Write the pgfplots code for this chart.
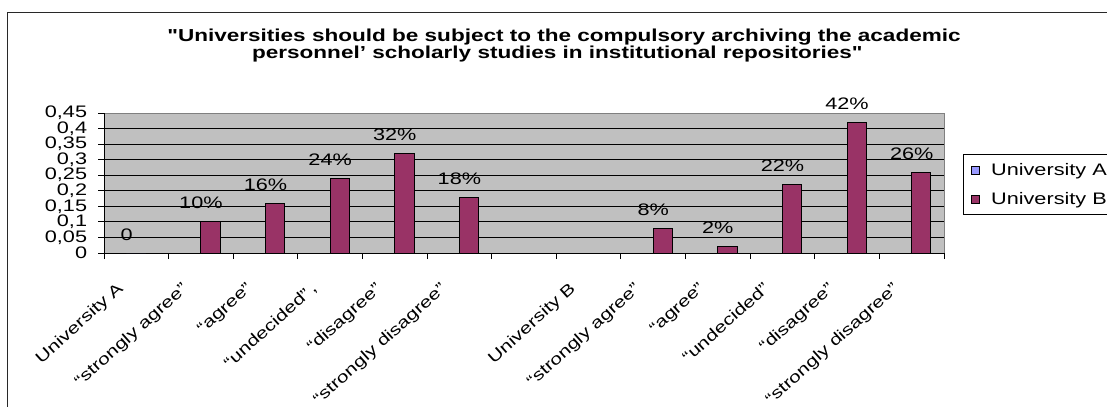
\documentclass[border=0pt]{standalone}
\usepackage{pgfplots}
\pgfplotsset{compat=1.18}
\usepackage{fontspec}
\setmainfont{Liberation Sans}[FakeStretch=1.3, Ligatures=TeXOff]
\definecolor{barB}{RGB}{153,51,102}
\definecolor{barA}{RGB}{153,153,255}
\definecolor{plotbg}{RGB}{192,192,192}
\definecolor{frameg}{RGB}{128,128,128}
\newcommand\lbl{\fontsize{12.5}{13}\selectfont}
\newcommand\xlbl{\fontsize{12}{13}\selectfont}
\newcommand\lgd{\fontsize{12.5}{13}\selectfont}
\newcommand\ttl{\fontsize{13}{15}\selectfont\bfseries}
\begin{document}
\begin{tikzpicture}
\useasboundingbox (0,0) rectangle (830.25pt,-305.25pt);
\clip (0,0) rectangle (830.25pt,-305.25pt);
\draw[line width=0.75pt, color={rgb,255:red,40;green,40;blue,40}] (5.25pt,-9pt) rectangle (850pt,-330pt);
\node[font=\ttl, anchor=base, inner sep=0pt] at (423pt,-30.75pt) {"Universities should be subject to the compulsory archiving the academic};
\node[font=\ttl, anchor=base, inner sep=0pt] at (418pt,-43.5pt) {personnel’ scholarly studies in institutional repositories"};
\begin{axis}[
  at={(78pt,-189.75pt)}, anchor=south west,
  scale only axis, width=630pt, height=105pt,
  xmin=-0.5, xmax=12.5, ymin=0, ymax=0.45,
  axis x line*=bottom, axis y line*=left,
  axis line style={-, black, line width=0.75pt},
  axis background/.style={fill=plotbg, draw=frameg, line width=0.75pt},
  tick align=outside,
  major tick length=4.5pt, minor tick length=4.5pt,
  ytick={0,0.05,0.1,0.15,0.2,0.25,0.3,0.35,0.4},
  extra y ticks={0.45},
  extra y tick style={grid=none},
  ytick pos=left, xtick pos=bottom,
  yticklabel style={font=\lbl, inner sep=1pt, xshift=-7pt},
  /pgf/number format/.cd, use comma, fixed, precision=2, assume math mode=true,
  /pgfplots/.cd,
  ymajorgrids, major y grid style={black, line width=0.75pt},
  y tick style={black, line width=0.75pt},
  xtick={0,...,12},
  xticklabels={University A, “strongly agree”, “agree”, {“undecided”\,,}, “disagree”, “strongly disagree”, {}, University B, “strongly agree”, “agree”, “undecided”, “disagree”, “strongly disagree”},
  major x tick style={draw=none},
  minor xtick={-0.5,0.5,...,12.5},
  minor x tick style={black, line width=0.75pt},
  xticklabel style={xshift=-15pt, yshift=-15pt, rotate=42, anchor=north east, font=\xlbl, inner sep=1pt},
  legend style={at={(1.0226,0.707)}, anchor=north west, draw=black, line width=0.75pt, font=\lgd,
    cells={anchor=west}, row sep=8.25pt, inner xsep=6pt, inner ysep=5pt,
    nodes={inner sep=0pt, text height=10.5pt, text depth=3pt},
    /tikz/every odd column/.append style={column sep=8pt}},
]
\addplot[ybar, fill=barA, draw=black, line width=0.75pt, bar width=14.5pt, bar shift=0pt,
  legend image code/.code={\draw[fill=barA, draw=black, line width=0.75pt] (0pt,-3pt) rectangle (6pt,3pt);},
  point meta=explicit symbolic, nodes near coords={\pgfplotspointmeta},
  nodes near coords style={anchor=base, xshift=-7.2pt, yshift=9.75pt, font=\lbl, inner sep=0pt}]
  coordinates {(0,0) [0]};
\addplot[ybar, fill=barB, draw=black, line width=0.75pt, bar width=14.5pt, bar shift=7.2pt,
  legend image code/.code={\draw[fill=barB, draw=black, line width=0.75pt] (0pt,-3pt) rectangle (6pt,3pt);},
  point meta=explicit symbolic, nodes near coords={\pgfplotspointmeta\%},
  nodes near coords style={anchor=base, yshift=9.75pt, font=\lbl, inner sep=0pt}]
  coordinates {(1,0.10) [10] (2,0.16) [16] (3,0.24) [24] (4,0.32) [32] (5,0.18) [18]
               (8,0.08) [8] (9,0.02) [2] (10,0.22) [22] (11,0.42) [42] (12,0.26) [26]};
\legend{University A, University B}
\end{axis}
\end{tikzpicture}
\end{document}
